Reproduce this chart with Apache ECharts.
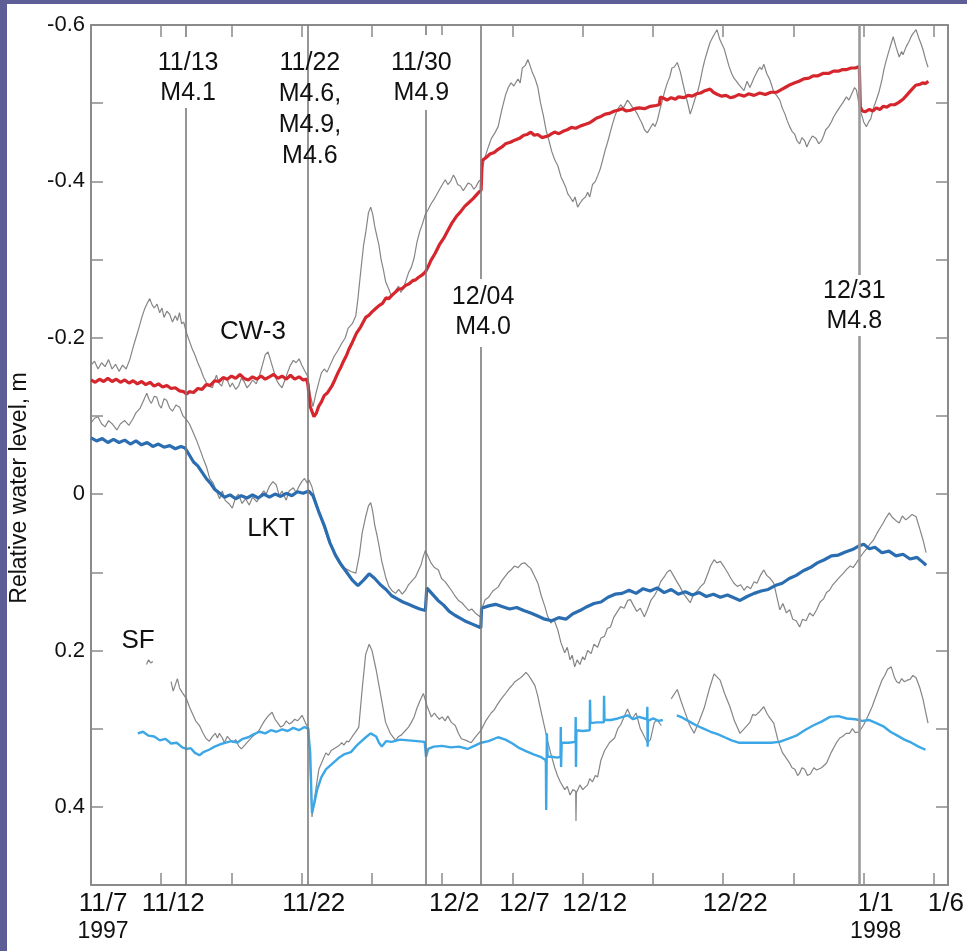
<!DOCTYPE html>
<html>
<head>
<meta charset="utf-8">
<script src="https://cdn.jsdelivr.net/npm/echarts@6/dist/echarts.min.js"></script>
<style>
html,body{margin:0;padding:0;background:#5e5e96;}
#chart{width:967px;height:951px;}
</style>
</head>
<body>
<div id="chart"></div>
<script>
// x values are days since 1997-11-07 00:00
const xTickLabels = ['11/7','11/12','','11/22','','12/2','12/7','12/12','','12/22','','1/1','1/6'];
const xTickYears  = ['1997','','','','','','','','','','','1998',''];
const yTickValues = [-0.6,-0.4,-0.2,0,0.2,0.4];

const eventDays   = [6.77, 15.44, 23.80, 27.77, 54.69];
const eventLabels = ['11/13\nM4.1', '11/22\nM4.6,\nM4.9,\nM4.6', '11/30\nM4.9', '12/04\nM4.0', '12/31\nM4.8'];

const seriesNames = ['CW-3', 'LKT', 'SF'];

const cw3Raw = [[0,-0.165],[0.25,-0.170],[0.5,-0.160],[0.75,-0.168],[1.0,-0.163],[1.25,-0.172],[1.5,-0.160],[1.75,-0.166],[2.0,-0.157],[2.25,-0.165],[2.5,-0.160],[2.76,-0.172],[3.0,-0.188],[3.2,-0.200],[3.4,-0.212],[3.6,-0.225],[3.8,-0.236],[4.0,-0.244],[4.18,-0.250],[4.35,-0.242],[4.5,-0.238],[4.7,-0.243],[4.89,-0.232],[5.05,-0.238],[5.2,-0.226],[5.4,-0.234],[5.6,-0.230],[5.8,-0.220],[6.0,-0.228],[6.15,-0.222],[6.3,-0.232],[6.45,-0.218],[6.6,-0.220],[6.8,-0.206],[7.0,-0.196],[7.2,-0.186],[7.4,-0.178],[7.6,-0.168],[7.8,-0.160],[8.0,-0.150],[8.2,-0.143],[8.4,-0.138],[8.64,-0.136],[8.8,-0.146],[8.93,-0.152],[9.1,-0.142],[9.3,-0.138],[9.5,-0.150],[9.7,-0.146],[9.9,-0.137],[10.06,-0.142],[10.3,-0.134],[10.5,-0.138],[10.7,-0.148],[10.9,-0.144],[11.1,-0.136],[11.3,-0.140],[11.5,-0.146],[11.76,-0.141],[12.0,-0.152],[12.2,-0.165],[12.4,-0.178],[12.6,-0.182],[12.8,-0.170],[13.0,-0.158],[13.2,-0.146],[13.4,-0.140],[13.6,-0.136],[13.8,-0.146],[14.0,-0.156],[14.2,-0.165],[14.4,-0.171],[14.6,-0.168],[14.81,-0.173],[15.0,-0.165],[15.2,-0.158],[15.44,-0.150],[15.6,-0.128],[15.8,-0.112],[16.0,-0.128],[16.2,-0.142],[16.4,-0.155],[16.6,-0.160],[16.8,-0.156],[17.0,-0.164],[17.3,-0.176],[17.55,-0.183],[17.85,-0.193],[18.1,-0.200],[18.3,-0.212],[18.6,-0.218],[18.85,-0.228],[19.0,-0.250],[19.2,-0.285],[19.4,-0.318],[19.55,-0.334],[19.75,-0.360],[19.91,-0.367],[20.05,-0.358],[20.2,-0.342],[20.35,-0.330],[20.5,-0.318],[20.65,-0.300],[20.8,-0.288],[20.97,-0.272],[21.2,-0.262],[21.4,-0.252],[21.6,-0.258],[21.89,-0.266],[22.05,-0.258],[22.2,-0.262],[22.4,-0.272],[22.6,-0.283],[22.8,-0.290],[23.0,-0.302],[23.2,-0.322],[23.4,-0.336],[23.6,-0.346],[23.8,-0.358],[24.0,-0.364],[24.23,-0.372],[24.45,-0.378],[24.7,-0.386],[24.95,-0.394],[25.22,-0.402],[25.4,-0.396],[25.6,-0.400],[25.8,-0.408],[25.93,-0.404],[26.1,-0.396],[26.3,-0.394],[26.5,-0.388],[26.64,-0.390],[26.85,-0.398],[27.06,-0.396],[27.25,-0.390],[27.4,-0.393],[27.6,-0.400],[27.77,-0.402],[27.9,-0.420],[28.06,-0.432],[28.3,-0.445],[28.5,-0.455],[28.75,-0.462],[28.98,-0.470],[29.25,-0.492],[29.5,-0.510],[29.7,-0.520],[29.9,-0.526],[30.1,-0.522],[30.39,-0.531],[30.55,-0.526],[30.7,-0.545],[30.9,-0.548],[31.1,-0.556],[31.25,-0.548],[31.4,-0.540],[31.6,-0.532],[31.81,-0.520],[32.0,-0.500],[32.2,-0.484],[32.4,-0.465],[32.6,-0.452],[32.8,-0.438],[33.0,-0.428],[33.23,-0.420],[33.45,-0.406],[33.6,-0.400],[33.8,-0.392],[33.94,-0.384],[34.1,-0.380],[34.3,-0.374],[34.45,-0.380],[34.64,-0.367],[34.8,-0.372],[35.0,-0.377],[35.2,-0.380],[35.35,-0.386],[35.5,-0.380],[35.7,-0.396],[35.9,-0.400],[36.06,-0.407],[36.25,-0.416],[36.4,-0.426],[36.6,-0.440],[36.77,-0.450],[36.95,-0.462],[37.1,-0.472],[37.3,-0.484],[37.48,-0.492],[37.7,-0.498],[37.9,-0.494],[38.19,-0.504],[38.35,-0.500],[38.5,-0.496],[38.7,-0.492],[38.89,-0.486],[39.05,-0.480],[39.2,-0.475],[39.4,-0.466],[39.6,-0.462],[39.8,-0.468],[40.0,-0.474],[40.15,-0.470],[40.31,-0.478],[40.5,-0.492],[40.7,-0.506],[40.85,-0.516],[41.02,-0.526],[41.2,-0.534],[41.35,-0.545],[41.5,-0.546],[41.73,-0.552],[41.95,-0.540],[42.1,-0.528],[42.22,-0.530],[42.4,-0.505],[42.5,-0.498],[42.65,-0.486],[42.8,-0.494],[43.0,-0.506],[43.2,-0.516],[43.36,-0.528],[43.55,-0.545],[43.7,-0.556],[43.9,-0.568],[44.07,-0.578],[44.3,-0.586],[44.56,-0.594],[44.75,-0.582],[44.9,-0.576],[45.06,-0.570],[45.25,-0.558],[45.4,-0.548],[45.6,-0.538],[45.77,-0.532],[45.95,-0.528],[46.1,-0.524],[46.3,-0.520],[46.48,-0.516],[46.7,-0.528],[46.9,-0.520],[47.05,-0.526],[47.18,-0.532],[47.4,-0.540],[47.6,-0.546],[47.75,-0.543],[47.89,-0.550],[48.1,-0.538],[48.32,-0.530],[48.5,-0.520],[48.6,-0.514],[48.8,-0.510],[49.03,-0.504],[49.2,-0.494],[49.4,-0.486],[49.55,-0.478],[49.73,-0.470],[49.9,-0.464],[50.1,-0.460],[50.25,-0.452],[50.44,-0.448],[50.6,-0.456],[50.8,-0.452],[50.95,-0.444],[51.15,-0.452],[51.35,-0.458],[51.6,-0.455],[51.8,-0.448],[52.0,-0.452],[52.14,-0.458],[52.3,-0.466],[52.5,-0.470],[52.7,-0.476],[52.85,-0.482],[53.05,-0.488],[53.3,-0.495],[53.5,-0.500],[53.77,-0.508],[53.95,-0.504],[54.2,-0.514],[54.35,-0.520],[54.48,-0.517],[54.6,-0.506],[54.72,-0.490],[54.84,-0.486],[55.0,-0.476],[55.19,-0.470],[55.35,-0.476],[55.5,-0.480],[55.7,-0.494],[55.9,-0.504],[56.1,-0.515],[56.3,-0.530],[56.45,-0.544],[56.61,-0.555],[56.85,-0.570],[57.1,-0.585],[57.3,-0.572],[57.53,-0.559],[57.7,-0.566],[57.8,-0.562],[58.02,-0.572],[58.2,-0.578],[58.4,-0.586],[58.55,-0.590],[58.73,-0.594],[58.95,-0.582],[59.1,-0.575],[59.23,-0.568],[59.4,-0.556],[59.58,-0.546]];

const cw3Corr = [[0,-0.146],[0.3,-0.143],[0.6,-0.147],[0.9,-0.144],[1.2,-0.148],[1.5,-0.144],[1.8,-0.147],[2.1,-0.143],[2.4,-0.146],[2.7,-0.142],[3.0,-0.145],[3.3,-0.141],[3.6,-0.144],[3.9,-0.140],[4.2,-0.143],[4.5,-0.138],[4.8,-0.141],[5.1,-0.137],[5.4,-0.139],[5.7,-0.135],[6.0,-0.136],[6.3,-0.132],[6.6,-0.131],[6.8,-0.128],[7.0,-0.131],[7.3,-0.130],[7.6,-0.135],[7.9,-0.134],[8.2,-0.140],[8.5,-0.139],[8.8,-0.145],[9.1,-0.144],[9.4,-0.149],[9.7,-0.147],[10.0,-0.151],[10.3,-0.148],[10.6,-0.153],[10.9,-0.148],[11.2,-0.146],[11.5,-0.150],[11.8,-0.147],[12.1,-0.151],[12.4,-0.147],[12.7,-0.150],[13.0,-0.153],[13.3,-0.148],[13.6,-0.151],[13.9,-0.147],[14.2,-0.152],[14.5,-0.147],[14.81,-0.150],[15.1,-0.146],[15.35,-0.147],[15.44,-0.140],[15.6,-0.112],[15.87,-0.099],[16.05,-0.104],[16.2,-0.112],[16.4,-0.118],[16.6,-0.126],[16.85,-0.130],[17.14,-0.138],[17.35,-0.146],[17.6,-0.156],[17.8,-0.163],[18.0,-0.171],[18.2,-0.178],[18.35,-0.185],[18.6,-0.194],[18.9,-0.206],[19.2,-0.214],[19.55,-0.226],[19.8,-0.229],[20.0,-0.233],[20.25,-0.237],[20.5,-0.241],[20.75,-0.244],[21.0,-0.251],[21.2,-0.250],[21.4,-0.254],[21.65,-0.258],[21.89,-0.262],[22.15,-0.263],[22.4,-0.267],[22.65,-0.269],[22.9,-0.273],[23.1,-0.274],[23.3,-0.277],[23.55,-0.280],[23.8,-0.284],[24.0,-0.291],[24.2,-0.299],[24.5,-0.308],[24.8,-0.319],[25.1,-0.327],[25.43,-0.338],[25.7,-0.347],[26.0,-0.355],[26.3,-0.361],[26.6,-0.368],[26.9,-0.373],[27.2,-0.378],[27.5,-0.384],[27.77,-0.389],[27.84,-0.427],[28.1,-0.430],[28.4,-0.435],[28.7,-0.437],[28.98,-0.441],[29.25,-0.444],[29.5,-0.448],[29.85,-0.450],[30.2,-0.453],[30.5,-0.455],[30.8,-0.459],[31.05,-0.460],[31.31,-0.463],[31.55,-0.459],[31.8,-0.460],[32.1,-0.456],[32.52,-0.458],[32.8,-0.461],[33.0,-0.463],[33.3,-0.461],[33.6,-0.464],[33.9,-0.466],[34.2,-0.469],[34.5,-0.468],[34.86,-0.471],[35.2,-0.473],[35.5,-0.475],[35.75,-0.478],[36.0,-0.481],[36.3,-0.483],[36.6,-0.486],[36.9,-0.487],[37.27,-0.490],[37.5,-0.491],[37.8,-0.493],[38.1,-0.490],[38.4,-0.491],[38.7,-0.493],[39.0,-0.494],[39.4,-0.493],[39.82,-0.496],[40.2,-0.497],[40.45,-0.498],[40.53,-0.508],[40.8,-0.506],[41.0,-0.504],[41.3,-0.507],[41.6,-0.505],[41.8,-0.508],[42.22,-0.507],[42.5,-0.510],[42.8,-0.509],[43.1,-0.512],[43.4,-0.513],[43.7,-0.516],[44.07,-0.518],[44.3,-0.514],[44.6,-0.511],[44.9,-0.509],[45.2,-0.510],[45.5,-0.507],[45.77,-0.508],[46.1,-0.511],[46.5,-0.509],[46.8,-0.512],[47.2,-0.510],[47.6,-0.513],[48.0,-0.511],[48.4,-0.514],[48.82,-0.514],[49.2,-0.518],[49.5,-0.521],[49.8,-0.524],[50.1,-0.526],[50.4,-0.528],[50.73,-0.531],[51.1,-0.532],[51.4,-0.535],[51.75,-0.535],[52.1,-0.538],[52.5,-0.538],[52.85,-0.541],[53.2,-0.541],[53.5,-0.543],[53.8,-0.543],[54.1,-0.545],[54.4,-0.545],[54.69,-0.547],[54.76,-0.495],[54.9,-0.490],[55.1,-0.489],[55.4,-0.492],[55.65,-0.490],[55.9,-0.494],[56.15,-0.492],[56.4,-0.496],[56.65,-0.495],[56.9,-0.498],[57.2,-0.498],[57.5,-0.501],[57.8,-0.505],[58.1,-0.511],[58.4,-0.517],[58.7,-0.523],[59.0,-0.524],[59.2,-0.526],[59.4,-0.525],[59.6,-0.528]];

const lktRaw = [[0,-0.091],[0.25,-0.097],[0.5,-0.099],[0.75,-0.090],[1.0,-0.086],[1.25,-0.094],[1.5,-0.090],[1.84,-0.082],[2.1,-0.090],[2.4,-0.094],[2.7,-0.088],[2.98,-0.096],[3.2,-0.104],[3.5,-0.110],[3.75,-0.120],[3.97,-0.129],[4.15,-0.120],[4.3,-0.116],[4.5,-0.125],[4.68,-0.124],[4.85,-0.114],[5.0,-0.110],[5.2,-0.122],[5.38,-0.120],[5.6,-0.110],[5.8,-0.106],[6.05,-0.114],[6.31,-0.111],[6.55,-0.100],[6.8,-0.095],[7.0,-0.090],[7.2,-0.082],[7.51,-0.069],[7.8,-0.055],[8.0,-0.045],[8.22,-0.035],[8.45,-0.020],[8.7,-0.014],[8.93,-0.004],[9.15,0.006],[9.35,-0.004],[9.55,0.008],[9.8,0.012],[10.06,0.018],[10.3,0.004],[10.5,0.000],[10.75,0.012],[11.0,0.006],[11.26,0.014],[11.5,0.004],[11.8,0.010],[12.05,0.002],[12.3,-0.004],[12.47,0.000],[12.7,-0.010],[12.95,-0.016],[13.18,-0.012],[13.4,0.002],[13.6,-0.004],[13.89,0.008],[14.1,-0.004],[14.4,-0.008],[14.6,-0.002],[14.81,-0.010],[15.0,-0.016],[15.2,-0.020],[15.4,-0.014],[15.52,-0.018],[15.73,-0.009],[15.95,0.006],[16.2,0.020],[16.45,0.036],[16.72,0.050],[16.95,0.062],[17.2,0.072],[17.4,0.080],[17.64,0.088],[17.9,0.094],[18.2,0.096],[18.5,0.099],[18.85,0.101],[19.1,0.078],[19.3,0.050],[19.55,0.029],[19.75,0.015],[19.91,0.011],[20.05,0.022],[20.2,0.040],[20.35,0.052],[20.47,0.063],[20.7,0.086],[20.97,0.106],[21.2,0.118],[21.45,0.124],[21.68,0.127],[21.9,0.122],[22.15,0.128],[22.39,0.123],[22.6,0.116],[22.85,0.111],[23.1,0.106],[23.3,0.098],[23.5,0.090],[23.65,0.080],[23.8,0.072],[24.0,0.080],[24.2,0.088],[24.45,0.094],[24.73,0.097],[24.95,0.108],[25.2,0.112],[25.45,0.118],[25.65,0.123],[25.9,0.130],[26.15,0.136],[26.4,0.139],[26.64,0.144],[26.9,0.149],[27.1,0.147],[27.35,0.152],[27.55,0.155],[27.70,0.157],[27.85,0.145],[28.06,0.135],[28.3,0.132],[28.6,0.124],[28.98,0.119],[29.2,0.112],[29.45,0.106],[29.7,0.100],[29.90,0.097],[30.15,0.092],[30.4,0.094],[30.65,0.089],[30.89,0.088],[31.1,0.092],[31.3,0.095],[31.55,0.104],[31.81,0.114],[32.05,0.130],[32.31,0.144],[32.5,0.156],[32.73,0.165],[32.95,0.160],[33.23,0.174],[33.45,0.190],[33.72,0.203],[33.9,0.196],[34.1,0.212],[34.25,0.206],[34.43,0.221],[34.6,0.212],[34.8,0.218],[35.0,0.208],[35.14,0.212],[35.35,0.200],[35.6,0.204],[35.8,0.192],[36.06,0.196],[36.3,0.184],[36.55,0.182],[36.75,0.172],[36.98,0.170],[37.2,0.158],[37.48,0.150],[37.7,0.144],[37.95,0.146],[38.2,0.136],[38.40,0.135],[38.6,0.142],[38.85,0.150],[39.1,0.146],[39.39,0.157],[39.6,0.148],[39.85,0.136],[40.1,0.130],[40.31,0.123],[40.55,0.112],[40.8,0.106],[41.0,0.100],[41.23,0.097],[41.45,0.104],[41.7,0.112],[41.94,0.119],[42.2,0.128],[42.45,0.134],[42.65,0.139],[42.9,0.128],[43.15,0.124],[43.4,0.118],[43.64,0.114],[43.9,0.102],[44.1,0.092],[44.35,0.084],[44.55,0.088],[44.8,0.086],[45.06,0.093],[45.3,0.100],[45.55,0.108],[45.77,0.114],[46.0,0.118],[46.25,0.116],[46.48,0.123],[46.7,0.118],[46.95,0.121],[47.2,0.112],[47.40,0.114],[47.65,0.104],[47.89,0.097],[48.1,0.104],[48.35,0.108],[48.60,0.114],[48.8,0.130],[49.03,0.148],[49.25,0.140],[49.5,0.152],[49.73,0.148],[49.95,0.160],[50.2,0.162],[50.44,0.170],[50.65,0.160],[50.9,0.162],[51.15,0.152],[51.4,0.156],[51.65,0.148],[51.9,0.138],[52.15,0.134],[52.35,0.126],[52.57,0.123],[52.8,0.116],[53.05,0.111],[53.3,0.106],[53.56,0.101],[53.8,0.096],[54.05,0.092],[54.25,0.094],[54.48,0.088],[54.7,0.082],[54.98,0.075],[55.2,0.070],[55.45,0.064],[55.69,0.059],[55.95,0.050],[56.15,0.044],[56.39,0.037],[56.6,0.030],[56.82,0.024],[57.05,0.030],[57.3,0.034],[57.53,0.037],[57.75,0.028],[58.0,0.033],[58.2,0.030],[58.45,0.026],[58.73,0.029],[58.95,0.042],[59.23,0.059],[59.44,0.075]];

const lktCorr = [[0,-0.072],[0.4,-0.068],[0.8,-0.071],[1.2,-0.066],[1.6,-0.070],[2.0,-0.066],[2.4,-0.069],[2.8,-0.064],[3.2,-0.068],[3.6,-0.063],[4.0,-0.066],[4.4,-0.061],[4.8,-0.064],[5.2,-0.060],[5.6,-0.062],[6.0,-0.058],[6.4,-0.061],[6.7,-0.059],[7.0,-0.050],[7.3,-0.041],[7.6,-0.036],[7.9,-0.028],[8.2,-0.020],[8.5,-0.014],[8.8,-0.006],[9.1,-0.002],[9.5,0.004],[9.9,0.001],[10.3,0.006],[10.7,0.002],[11.1,0.005],[11.5,0.001],[11.9,0.005],[12.3,0.000],[12.7,0.004],[13.1,0.000],[13.5,0.003],[13.9,-0.001],[14.3,0.002],[14.7,-0.003],[15.1,-0.001],[15.5,-0.004],[15.8,0.002],[16.2,0.022],[16.6,0.040],[17.0,0.062],[17.4,0.078],[17.8,0.090],[18.2,0.100],[18.6,0.110],[19.0,0.117],[19.4,0.110],[19.8,0.102],[20.2,0.108],[20.6,0.116],[21.0,0.122],[21.4,0.130],[21.8,0.134],[22.2,0.138],[22.6,0.141],[23.0,0.144],[23.4,0.147],[23.8,0.149],[23.9,0.120],[24.3,0.128],[24.7,0.136],[25.1,0.142],[25.5,0.150],[25.9,0.155],[26.3,0.159],[26.7,0.163],[27.1,0.166],[27.5,0.169],[27.75,0.171],[27.8,0.146],[28.3,0.143],[28.8,0.141],[29.3,0.144],[29.8,0.147],[30.3,0.145],[30.8,0.149],[31.3,0.152],[31.8,0.156],[32.3,0.160],[32.8,0.162],[33.3,0.158],[33.8,0.160],[34.3,0.153],[34.8,0.149],[35.3,0.144],[35.8,0.140],[36.3,0.138],[36.8,0.132],[37.3,0.128],[37.8,0.127],[38.3,0.123],[38.8,0.127],[39.3,0.121],[39.8,0.124],[40.3,0.120],[40.8,0.126],[41.3,0.122],[41.8,0.128],[42.3,0.125],[42.8,0.129],[43.3,0.126],[43.8,0.131],[44.3,0.128],[44.8,0.132],[45.3,0.129],[45.8,0.133],[46.2,0.136],[46.7,0.131],[47.2,0.127],[47.7,0.124],[48.2,0.122],[48.7,0.117],[49.2,0.114],[49.7,0.108],[50.2,0.104],[50.7,0.098],[51.2,0.094],[51.7,0.088],[52.2,0.084],[52.7,0.079],[53.2,0.078],[53.7,0.074],[54.2,0.071],[54.7,0.066],[55.0,0.064],[55.4,0.070],[55.8,0.068],[56.3,0.075],[56.8,0.073],[57.3,0.079],[57.8,0.077],[58.3,0.083],[58.8,0.081],[59.2,0.087],[59.45,0.091]];

const sfRaw = [[3.95,0.218],[4.1,0.212],[4.25,0.216],[4.4,0.214],null,[5.7,0.240],[5.85,0.252],[6.0,0.244],[6.15,0.236],[6.3,0.248],[6.5,0.254],[6.8,0.262],[7.0,0.272],[7.2,0.280],[7.45,0.290],[7.72,0.296],[7.95,0.305],[8.2,0.313],[8.43,0.316],[8.65,0.310],[8.85,0.306],[9.0,0.312],[9.14,0.306],[9.35,0.312],[9.5,0.318],[9.7,0.310],[9.9,0.314],[10.1,0.318],[10.3,0.314],[10.5,0.322],[10.7,0.326],[10.9,0.322],[11.1,0.318],[11.3,0.314],[11.5,0.310],[11.7,0.307],[11.97,0.302],[12.15,0.296],[12.35,0.290],[12.6,0.284],[12.89,0.279],[13.1,0.288],[13.3,0.293],[13.5,0.298],[13.7,0.296],[13.9,0.290],[14.1,0.294],[14.3,0.292],[14.5,0.288],[14.7,0.290],[14.9,0.286],[15.02,0.283],[15.2,0.290],[15.35,0.296],[15.5,0.300],[15.62,0.360],[15.73,0.413],[15.9,0.390],[16.22,0.352],[16.5,0.340],[16.72,0.331],[16.9,0.334],[17.1,0.328],[17.35,0.325],[17.64,0.322],[17.85,0.318],[18.0,0.321],[18.2,0.316],[18.35,0.317],[18.6,0.310],[18.8,0.305],[19.06,0.298],[19.3,0.250],[19.55,0.205],[19.8,0.192],[20.0,0.200],[20.3,0.225],[20.6,0.255],[20.97,0.292],[21.3,0.306],[21.68,0.315],[21.9,0.310],[22.1,0.308],[22.35,0.303],[22.6,0.298],[22.8,0.292],[23.0,0.285],[23.2,0.274],[23.4,0.265],[23.66,0.255],[23.9,0.270],[24.23,0.285],[24.45,0.280],[24.6,0.284],[24.8,0.288],[25.0,0.285],[25.2,0.290],[25.4,0.284],[25.65,0.292],[25.93,0.296],[26.15,0.306],[26.36,0.313],[26.7,0.315],[27.06,0.318],[27.4,0.310],[27.77,0.302],[28.1,0.290],[28.48,0.280],[28.7,0.276],[28.9,0.270],[29.2,0.262],[29.47,0.256],[29.8,0.248],[30.0,0.244],[30.18,0.240],[30.5,0.236],[30.7,0.233],[30.96,0.228],[31.15,0.232],[31.3,0.236],[31.60,0.245],[31.8,0.258],[32.0,0.275],[32.31,0.300],[32.5,0.316],[32.7,0.330],[33.01,0.350],[33.2,0.360],[33.4,0.368],[33.72,0.378],[33.9,0.374],[34.1,0.385],[34.3,0.378],[34.5,0.380],[34.52,0.418],[34.55,0.382],[34.8,0.372],[35.0,0.378],[35.35,0.372],[35.5,0.364],[35.7,0.368],[35.9,0.360],[36.06,0.362],[36.3,0.340],[36.56,0.328],[36.9,0.318],[37.27,0.312],[37.5,0.300],[37.7,0.295],[38.19,0.275],[38.5,0.288],[38.8,0.280],[39.1,0.300],[39.39,0.310],[39.6,0.318],[39.82,0.314],[40.1,0.292],[40.31,0.289],[40.6,0.296],null,[41.3,0.262],[41.73,0.250],[42.0,0.265],[42.22,0.276],[42.6,0.295],[42.93,0.306],[43.3,0.290],[43.64,0.274],[44.0,0.250],[44.35,0.230],[44.78,0.238],[45.1,0.255],[45.48,0.272],[45.8,0.290],[46.19,0.306],[46.5,0.300],[46.90,0.292],[47.1,0.282],[47.3,0.283],[47.6,0.278],[47.89,0.272],[48.1,0.280],[48.3,0.286],[48.60,0.293],[48.9,0.315],[49.2,0.330],[49.5,0.338],[49.73,0.344],[49.9,0.350],[50.1,0.352],[50.3,0.360],[50.44,0.357],[50.6,0.350],[50.8,0.352],[51.0,0.360],[51.2,0.358],[51.45,0.350],[51.65,0.353],[52.0,0.350],[52.36,0.344],[52.7,0.330],[53.06,0.318],[53.3,0.312],[53.5,0.310],[53.75,0.306],[53.99,0.306],[54.2,0.300],[54.4,0.305],[54.69,0.304],[55.0,0.295],[55.2,0.288],[55.40,0.280],[55.6,0.272],[55.8,0.262],[56.11,0.247],[56.3,0.238],[56.5,0.232],[56.7,0.224],[56.96,0.221],[57.2,0.235],[57.35,0.240],[57.53,0.242],[57.7,0.236],[57.9,0.240],[58.1,0.238],[58.3,0.237],[58.5,0.232],[58.73,0.235],[59.0,0.248],[59.23,0.263],[59.4,0.278],[59.58,0.293]];

const sfCorr = [[3.33,0.306],[3.7,0.304],[4.1,0.309],[4.5,0.310],[4.9,0.315],[5.3,0.313],[5.7,0.319],[6.1,0.318],[6.5,0.324],[6.8,0.326],[7.1,0.325],[7.4,0.331],[7.72,0.334],[8.0,0.330],[8.4,0.327],[8.8,0.323],[9.2,0.320],[9.6,0.318],[10.0,0.316],[10.4,0.318],[10.8,0.313],[11.2,0.311],[11.6,0.307],[12.0,0.304],[12.4,0.306],[12.8,0.302],[13.2,0.304],[13.6,0.301],[14.0,0.303],[14.4,0.299],[14.8,0.302],[15.2,0.298],[15.45,0.300],[15.6,0.330],[15.73,0.408],[15.9,0.395],[16.1,0.378],[16.4,0.362],[16.72,0.352],[17.1,0.346],[17.6,0.338],[18.0,0.333],[18.5,0.330],[19.0,0.320],[19.5,0.312],[19.9,0.306],[20.3,0.310],[20.5,0.318],[20.7,0.323],[21.0,0.316],[21.4,0.317],[22.0,0.314],[22.6,0.315],[23.2,0.316],[23.75,0.317],[23.85,0.336],[24.0,0.326],[24.4,0.323],[25.0,0.322],[25.6,0.324],[26.2,0.323],[26.8,0.326],[27.4,0.321],[27.77,0.318],[28.3,0.316],[28.98,0.311],[29.5,0.314],[30.0,0.319],[30.5,0.325],[31.0,0.329],[31.5,0.333],[32.0,0.336],[32.35,0.340],[32.38,0.344],[32.40,0.404],[32.45,0.306],[32.5,0.336],[32.8,0.336],[33.2,0.337],[33.42,0.336],[33.44,0.298],[33.46,0.349],[33.5,0.318],[34.0,0.318],[34.48,0.317],[34.5,0.285],[34.52,0.349],[34.55,0.302],[35.0,0.303],[35.5,0.302],[35.52,0.263],[35.55,0.293],[36.0,0.292],[36.5,0.292],[36.52,0.258],[36.55,0.289],[37.0,0.289],[37.5,0.287],[38.2,0.283],[38.6,0.288],[39.0,0.285],[39.58,0.288],[39.6,0.272],[39.62,0.323],[39.65,0.290],[40.0,0.287],[40.4,0.290],[40.7,0.289],null,[41.7,0.283],[42.1,0.286],[42.6,0.291],[43.1,0.296],[43.6,0.300],[44.1,0.304],[44.6,0.307],[45.1,0.311],[45.6,0.315],[46.1,0.318],[46.6,0.318],[47.2,0.318],[47.8,0.318],[48.4,0.318],[49.0,0.317],[49.6,0.313],[50.2,0.309],[50.8,0.302],[51.4,0.296],[52.0,0.291],[52.6,0.285],[53.2,0.284],[53.8,0.287],[54.4,0.288],[54.9,0.290],[55.4,0.289],[55.9,0.293],[56.4,0.297],[56.9,0.304],[57.4,0.309],[57.9,0.314],[58.4,0.318],[58.9,0.323],[59.4,0.327]];

// ---------------- layout / style ----------------
const FONT = '"Liberation Sans", Arial, Helvetica, sans-serif';
const AX = '#8a8a8a';
const GRAY = '#858585';
const eventLabelLayout = [
  {dx: 2, y: 37, pad: [11,4,0,4], bg: '#fff', lh: 30},
  {dx: 2, y: 48, pad: [0,0,0,0], bg: null, lh: 31},
  {dx: -4, y: 35, pad: [13,4,2,4], bg: '#fff', lh: 30},
  {dx: 2, y: 279, pad: [3,4,5,4], bg: '#fff', lh: 30},
  {dx: -5, y: 275, pad: [1,4,0,4], bg: '#fff', lh: 30}
];
const eventLineStyle = [
  {color:'#7c7c7c', width:1.6},{color:'#7c7c7c', width:1.6},{color:'#7c7c7c', width:1.6},{color:'#7c7c7c', width:1.6},{color:'#9a9a9a', width:2.6}
];
const seriesLabelPos = [[253,332],[271,529],[138,641]];

const chart = echarts.init(document.getElementById('chart'), null, {renderer:'canvas'});

const yLabelFmt = v => {
  const r = Math.round(v * 10);
  if (r % 2 !== 0) return '';
  const match = yTickValues.find(t => Math.abs(t - r/10) < 1e-9);
  if (match === undefined) return '';
  return match === 0 ? '0' : match.toFixed(1);
};
const xLabelFmt = v => {
  const i = Math.round(v / 5);
  if (Math.abs(v - i*5) > 1e-6 || i >= xTickLabels.length || !xTickLabels[i]) return '';
  return xTickYears[i] ? '{m|' + xTickLabels[i] + '}\n{y|' + xTickYears[i] + '}' : '{m|' + xTickLabels[i] + '}';
};

const axisCommon = {
  axisLine: {show:true, onZero:false, lineStyle:{color:AX, width:2}},
  axisTick: {show:true, inside:true, length:12, lineStyle:{color:AX, width:1.5}},
  splitLine: {show:false}
};

const lineSeries = (name, data, color, width, z) => ({
  name, type:'line', data, showSymbol:false, symbol:'none', connectNulls:false,
  lineStyle:{color, width}, z, animation:false, xAxisIndex:0, yAxisIndex:0
});

const option = {
  backgroundColor: '#5e5e96',
  animation: false,
  grid: {left:91, top:25, width:861, height:860, containLabel:false},
  xAxis: [
    Object.assign({type:'value', min:0, max:61, interval:5, position:'bottom',
      axisLabel:{show:true, showMaxLabel:false, formatter:xLabelFmt, margin:5, color:'#111', fontFamily:FONT,
        padding:[0,0,0,24],
        rich:{m:{fontSize:26, lineHeight:28, fontFamily:FONT, color:'#111'}, y:{fontSize:23, lineHeight:28, fontFamily:FONT, color:'#111'}}}}, axisCommon),
    Object.assign({type:'value', min:0, max:61, interval:5, position:'top', axisLabel:{show:false}}, axisCommon)
  ],
  yAxis: [
    Object.assign({type:'value', inverse:true, min:-0.6, max:0.5, interval:0.1, position:'left',
      axisLabel:{show:true, formatter:yLabelFmt, margin:6, fontSize:22, color:'#111', fontFamily:FONT, showMaxLabel:false}}, axisCommon),
    Object.assign({type:'value', inverse:true, min:-0.6, max:0.5, interval:0.1, position:'right', axisLabel:{show:false}}, axisCommon)
  ],
  series: [
    {
      type:'line', data:[], z:1, silent:true, xAxisIndex:0, yAxisIndex:0,
      markLine:{
        silent:true, symbol:['none','none'], label:{show:false}, animation:false,
        data: eventDays.map((d,i) => ({xAxis:d, lineStyle:Object.assign({type:'solid'}, eventLineStyle[i])}))
      }
    },
    lineSeries('CW-3 raw', cw3Raw, GRAY, 1.2, 2),
    lineSeries('LKT raw', lktRaw, GRAY, 1.2, 2),
    lineSeries('SF raw', sfRaw, GRAY, 1.2, 2),
    lineSeries('CW-3', cw3Corr, '#d6262d', 3.2, 3),
    lineSeries('LKT', lktCorr, '#2b6db1', 3.2, 3),
    lineSeries('SF', sfCorr, '#3ca7e6', 2.4, 3)
  ]
};
chart.setOption(option);

const graphics = [
  {type:'rect', id:'bg', silent:true, z:-100, shape:{x:7, y:4, width:960, height:947}, style:{fill:'#ffffff'}},
  {type:'text', id:'ytitle', x:20, y:488, rotation:Math.PI/2, z:100,
    style:{text:'Relative water level, m', font:'23px ' + FONT, fill:'#111', align:'center', verticalAlign:'middle'}}
];
seriesNames.forEach((n, i) => {
  graphics.push({type:'text', id:'sn'+i, x:seriesLabelPos[i][0], y:seriesLabelPos[i][1], z:100,
    style:{text:n, font:'26px ' + FONT, fill:'#111', align:'center', verticalAlign:'middle'}});
});
eventDays.forEach((d, i) => {
  const px = chart.convertToPixel({xAxisIndex:0}, d);
  const L = eventLabelLayout[i];
  const st = {text:eventLabels[i], font:'25px ' + FONT, fill:'#111', align:'center', verticalAlign:'top',
    lineHeight:L.lh, padding:L.pad};
  if (L.bg) st.backgroundColor = L.bg;
  graphics.push({type:'text', id:'ev'+i, x:px + L.dx, y:L.y, z:100, style:st});
});
chart.setOption({graphic:{elements:graphics}});
</script>
</body>
</html>
